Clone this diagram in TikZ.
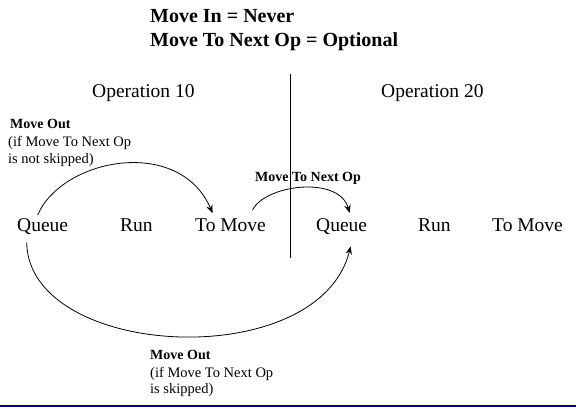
\documentclass[tikz,border=0pt]{standalone}
\usepackage{fontspec}
\setmainfont{Liberation Serif}
\usetikzlibrary{arrows.meta}
\definecolor{navyline}{RGB}{0,0,128}
\begin{document}
\begin{tikzpicture}[x=1pt,y=-1pt,
  big/.style={anchor=base west,inner sep=0pt,font=\fontsize{19.5}{23}\selectfont},
  bigb/.style={big,font=\fontsize{20}{23}\selectfont\bfseries},
  small/.style={anchor=base west,inner sep=0pt,font=\fontsize{14.5}{17}\selectfont},
  smallb/.style={small,font=\fontsize{14}{17}\selectfont\bfseries},
  conn/.style={line width=0.8pt,-{Stealth[length=8pt,width=6.5pt]}}]
\useasboundingbox (0,0) rectangle (576,408);
% header
\node[bigb] (h1) at (150,22.7) {Move In = Never};
\node[bigb] (h2) at (150,46.7) {Move To Next Op = Optional};
% operations
\node[big] (op10) at (92,97) {Operation 10};
\node[big] (op20) at (381,97) {Operation 20};
% divider
\coordinate (dtop) at (290,74);
\coordinate (dbot) at (290,258);
\draw[line width=1pt] (dtop) -- (dbot);
% states
\node[big] (q1) at (17,231) {Queue};
\node[big] (r1) at (120,231) {Run};
\node[big] (tm1) at (195,231) {To Move};
\node[big] (q2) at (316,231) {Queue};
\node[big] (r2) at (418,231) {Run};
\node[big] (tm2) at (492,231) {To Move};
% labels
\node[smallb] (l1a) at (10,128) {Move Out};
\node[small] (l1b) at (8,146) {(if Move To Next Op};
\node[small] (l1c) at (8,163) {is not skipped)};
\node[smallb] (l2) at (255,181) {Move To Next Op};
\node[smallb] (l3a) at (150,359) {Move Out};
\node[small] (l3b) at (150,377) {(if Move To Next Op};
\node[small] (l3c) at (150,393) {is skipped)};
% connectors
\draw[conn] ([shift={(-5,-3)}]q1.north) .. controls +(25,-57) and +(-33,-77) .. ([shift={(-18,-5)}]tm1.north);
\draw[conn] ([shift={(22,-8)}]tm1.north) .. controls +(12,-25) and +(-11,-38) .. ([shift={(8,-5)}]q2.north);
\draw[conn] ([shift={(-16,8)}]q1.south) .. controls +(2,117) and +(-32,128) .. ([shift={(9,12)}]q2.south);
% bottom rule
\coordinate (bl) at (0,406);
\coordinate (br) at (576,406);
\draw[navyline,line width=1.6pt] (bl) -- (br);
\end{tikzpicture}
\end{document}
